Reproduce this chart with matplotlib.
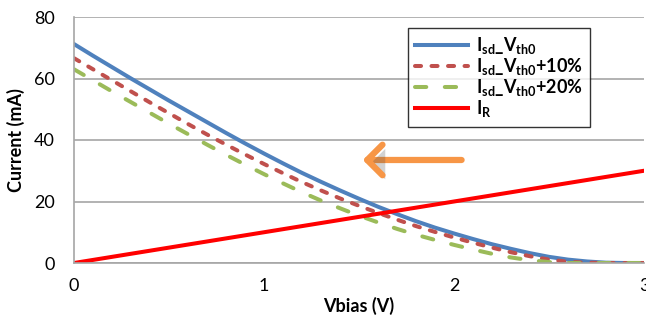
import numpy as np
import matplotlib
matplotlib.use("Agg")
import matplotlib.pyplot as plt
from matplotlib import patheffects as pe

plt.rcParams['font.family'] = ['Lato', 'DejaVu Sans']
plt.rcParams['mathtext.fontset'] = 'custom'
plt.rcParams['mathtext.rm'] = 'Lato'
plt.rcParams['mathtext.bf'] = 'Lato:bold'

# Vbias sweep (V)
vbias = [0.0, 0.1, 0.2, 0.3, 0.4, 0.5, 0.6, 0.7, 0.8, 0.9, 1.0,
         1.1, 1.2, 1.3, 1.4, 1.5, 1.6, 1.7, 1.8, 1.9, 2.0,
         2.1, 2.2, 2.3, 2.4, 2.5, 2.6, 2.7, 2.8, 2.9, 3.0]

# currents (mA)
isd_vth0 = [71.2, 67.4, 63.7, 60.0, 56.4, 52.8, 49.3, 45.8, 42.3, 38.9, 35.6,
            32.4, 29.3, 26.4, 23.6, 20.9, 18.3, 15.9, 13.6, 11.5, 9.6,
            7.8, 6.1, 4.6, 3.2, 2.0, 1.1, 0.5, 0.1, 0.0, 0.0]
isd_vth10 = [66.6, 63.0, 59.4, 55.8, 52.2, 48.7, 45.2, 41.8, 38.5, 35.3, 32.2,
             29.2, 26.3, 23.6, 21.0, 18.6, 16.3, 14.1, 12.0, 10.1, 8.3,
             6.6, 5.0, 3.5, 2.2, 1.1, 0.4, 0.1, 0.0, 0.0, 0.0]
isd_vth20 = [63.0, 59.4, 55.8, 52.3, 48.8, 45.3, 41.9, 38.5, 35.2, 32.0, 28.9,
             25.9, 23.0, 20.3, 17.8, 15.4, 13.2, 11.1, 9.2, 7.5, 5.9,
             4.4, 3.0, 1.8, 0.9, 0.3, 0.0, 0.0, 0.0, 0.0, 0.0]
i_r = [0, 1, 2, 3, 4, 5, 6, 7, 8, 9, 10,
       11, 12, 13, 14, 15, 16, 17, 18, 19, 20,
       21, 22, 23, 24, 25, 26, 27, 28, 29, 30]

labels = [r'$\mathbf{I_{sd}\_V_{th0}}$',
          r'$\mathbf{I_{sd}\_V_{th0}{+}10\%}$',
          r'$\mathbf{I_{sd}\_V_{th0}{+}20\%}$',
          r'$\mathbf{I_{R}}$']

# arrow (data coords)
arrow_tail = (2.04, 33.5)
arrow_head = (1.52, 33.5)

fig = plt.figure(figsize=(6.46, 3.26), dpi=100)
ax = fig.add_axes([74 / 646, 63 / 326, 570 / 646, 246 / 326])

lw = 2.9
ax.plot(vbias, isd_vth0, color='#4F81BD', lw=lw, label=labels[0])
ax.plot(vbias, isd_vth10, color='#C0504D', lw=lw, dashes=(1.5, 2.6),
        dash_capstyle='round', label=labels[1])
ax.plot(vbias, isd_vth20, color='#9BBB59', lw=lw, dashes=(2.8, 4.6),
        dash_capstyle='round', label=labels[2])
ax.plot(vbias, i_r, color='#FF0000', lw=lw, label=labels[3])

# orange arrow pointing left, with a soft shadow
ax.annotate('', xy=arrow_head, xytext=arrow_tail,
            arrowprops=dict(arrowstyle='->, head_length=0.55, head_width=0.55',
                            mutation_scale=20,
                            color='#F79646', lw=4.5, capstyle='round',
                            joinstyle='round', shrinkA=0, shrinkB=0,
                            path_effects=[pe.SimplePatchShadow(offset=(2, -3), alpha=0.25),
                                          pe.Normal()]))

ax.set_xlim(0, 3)
ax.set_ylim(0, 80)
ax.set_xticks([0, 1, 2, 3])
ax.set_yticks([0, 20, 40, 60, 80])
ax.yaxis.grid(True, color='#A6A6A6', lw=1.2)
ax.set_axisbelow(True)
for s in ['top', 'right']:
    ax.spines[s].set_visible(False)
for s in ['left', 'bottom']:
    ax.spines[s].set_color('#A6A6A6')
    ax.spines[s].set_linewidth(1.2)
ax.tick_params(axis='both', length=0, labelsize=13, colors='#000000')
ax.tick_params(axis='y', pad=14)
ax.tick_params(axis='x', pad=11)

ax.set_xlabel('Vbias (V)', fontsize=13, fontweight='bold', labelpad=2)
ax.set_ylabel('Current (mA)', fontsize=13, fontweight='bold', labelpad=6)

leg = ax.legend(loc='upper left', bbox_to_anchor=(0.586, 0.955), fontsize=13,
                frameon=True, fancybox=False, handlelength=2.9,
                labelspacing=0.0, borderpad=0.4, handletextpad=0.45,
                borderaxespad=0)
leg.get_frame().set_edgecolor('#000000')
leg.get_frame().set_linewidth(1.0)

fig.savefig('out.png', dpi=100)
